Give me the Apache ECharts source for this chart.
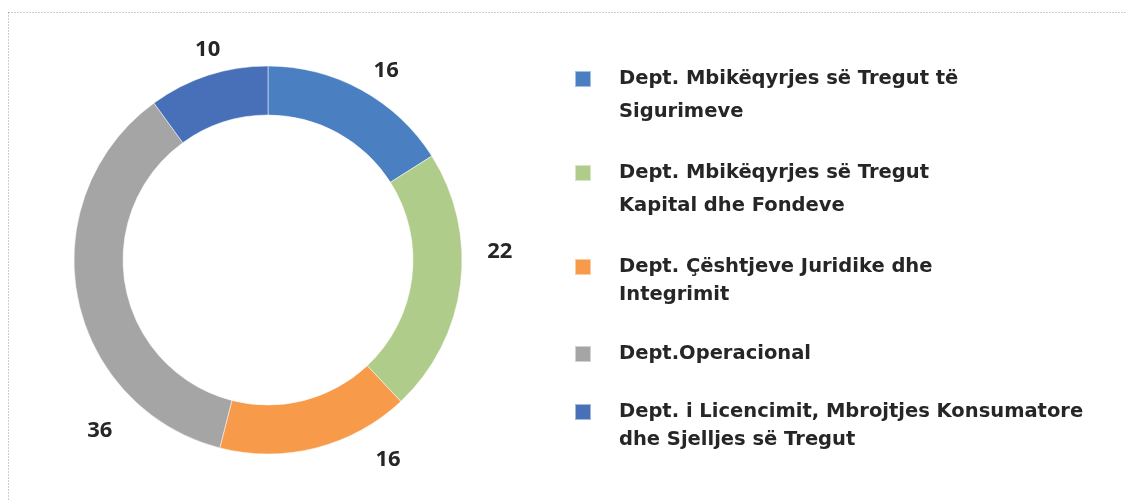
<!DOCTYPE html>
<html>
<head>
<meta charset="utf-8">
<script src="https://cdn.jsdelivr.net/npm/echarts@6/dist/echarts.min.js"></script>
<style>
  html, body { margin: 0; padding: 0; background: #fff; }
  #chart { width: 1127px; height: 501px; }
</style>
</head>
<body>
<div id="chart"></div>
<script>
// Departments (legend text, with line breaks as set in the legend)
const CATEGORIES = [
  'Dept. Mbikëqyrjes së Tregut të\nSigurimeve',
  'Dept. Mbikëqyrjes së Tregut\nKapital dhe Fondeve',
  'Dept. Çështjeve Juridike dhe\nIntegrimit',
  'Dept.Operacional',
  'Dept. i Licencimit, Mbrojtjes Konsumatore\ndhe Sjelljes së Tregut'
];
// Share per department
const VALUES = [16, 22, 16, 36, 10];
const COLORS = ['#4A7FC1', '#B0CC8A', '#F79A4A', '#A5A5A5', '#4870B8'];

// Ring geometry
const CX = 268, CY = 260, R_IN = 145, R_OUT = 194;

// Value label placement: angle clockwise from 12 o'clock (deg), distance from centre
const LABEL_ANGLE = [32, 88, 149, 224.5, 344];
const LABEL_DIST  = [223, 232, 233, 240, 219];

// Legend rows: icon centre y and line height of each entry
const LEGEND_ICON_Y = [79, 173, 267, 354, 412];
const LEGEND_LINE_H = [33, 33, 28, 28, 28];

const FONT = 'DejaVu Sans';

const legends = CATEGORIES.map((name, i) => {
  const lines = name.split('\n').length;
  const L = LEGEND_LINE_H[i];
  // A leading blank line keeps the first text line level with the swatch
  const shown = lines > 1 ? lines * 2 - 1 : 1;
  return {
    orient: 'vertical',
    left: 574,
    top: LEGEND_ICON_Y[i] - (shown * L) / 2,
    padding: 0,
    icon: 'rect',
    itemWidth: 16,
    itemHeight: 16,
    selectedMode: false,
    data: [name],
    formatter: function (n) {
      const parts = n.split('\n');
      return parts.length > 1 ? new Array(parts.length).join('\n') + n : n;
    },
    textStyle: {
      fontFamily: FONT,
      fontWeight: 'bold',
      fontSize: 19.5,
      color: '#262626',
      lineHeight: L,
      padding: [0, 0, 0, 23]
    }
  };
});

const chart = echarts.init(document.getElementById('chart'), null, { renderer: 'canvas' });
chart.setOption({
  animation: false,
  backgroundColor: '#fff',
  color: COLORS,
  graphic: [{
    type: 'rect',
    silent: true,
    shape: { x: 8.5, y: 12.5, width: 1300, height: 700 },
    style: { fill: 'none', stroke: '#9a9a9a', lineWidth: 1, lineDash: [1, 2] }
  }],
  legend: legends,
  series: [{
    type: 'pie',
    center: [CX, CY],
    radius: [R_IN, R_OUT],
    startAngle: 90,
    clockwise: true,
    avoidLabelOverlap: false,
    emphasis: { disabled: true },
    itemStyle: { borderColor: 'rgba(255,255,255,0.5)', borderWidth: 1 },
    label: {
      show: true,
      position: 'outside',
      formatter: '{c}',
      fontFamily: 'Open Sans',
      fontWeight: 'bold',
      fontSize: 22,
      color: '#262626'
    },
    labelLine: { show: false },
    labelLayout: function (params) {
      const i = params.dataIndex;
      const a = LABEL_ANGLE[i] * Math.PI / 180;
      return {
        x: CX + LABEL_DIST[i] * Math.sin(a),
        y: CY - LABEL_DIST[i] * Math.cos(a),
        align: 'center',
        verticalAlign: 'middle'
      };
    },
    data: CATEGORIES.map((name, i) => ({ name: name, value: VALUES[i] }))
  }]
});
</script>
</body>
</html>
